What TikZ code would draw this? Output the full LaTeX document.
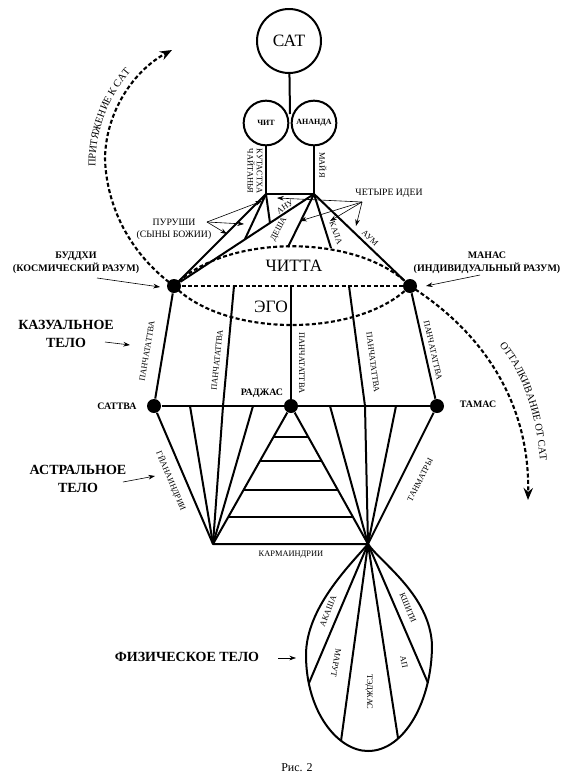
\documentclass[tikz,border=0pt]{standalone}
\usepackage{fontspec}
\setmainfont{Liberation Serif}
\usetikzlibrary{arrows.meta,calc,decorations.text}

\tikzset{every picture/.style={line width=0.75pt}}
\tikzset{
  bodyline/.style={line width=1.5pt, line join=round},
  dashcurve/.style={line width=1.6pt, dash pattern={on 3pt off 1.8pt}},
  blackdot/.style={circle, fill=black, inner sep=0pt, minimum size=10.5pt},
  bigring/.style={circle, draw, line width=1.5pt, minimum size=48pt, inner sep=0pt, font=\fontsize{13}{14}\selectfont},
  smallring/.style={circle, draw, line width=1.5pt, minimum size=33.5pt, inner sep=0pt, font=\bfseries\fontsize{6}{7}\selectfont},
  pointer/.style={line width=0.45pt, -{Stealth[length=5pt,width=3.5pt]}},
  tag/.style={font=\fontsize{6.3}{7}\selectfont, inner sep=0.5pt},
  bigtag/.style={font=\fontsize{13}{14}\selectfont, inner sep=0pt},
  gunatag/.style={font=\bfseries\fontsize{7.4}{8}\selectfont, inner sep=0pt},
  mindtag/.style={font=\bfseries\fontsize{7.5}{9.5}\selectfont, align=center, inner sep=0pt},
  bodytag/.style={font=\bfseries\fontsize{10.5}{13.5}\selectfont, align=center, inner sep=0pt},
  notetag/.style={font=\fontsize{7.3}{9}\selectfont, align=center, inner sep=0pt},
}

\begin{document}
\begin{tikzpicture}[x=0.75pt,y=0.75pt,yscale=-1,xscale=1]
	\useasboundingbox (0,0) rectangle (578,783);

	%Circles: Sat, Chit, Ananda
	\node[bigring] (sat) at (289,41) {САТ};
	\node[smallring] (chit) at (266,123) {ЧИТ};
	\node[smallring] (ananda) at (314,123) {АНАНДА};
	\coordinate (meet) at (290,114);
	\coordinate (tl) at (266,194);
	\coordinate (tr) at (314,194);
	\draw[bodyline] (sat) -- (meet);
	\draw[bodyline] (chit) -- (tl) -- (tr) -- (ananda);

	%Dots: Buddhi, Manas, gunas
	\node[blackdot] (buddhi) at (174,286) {};
	\node[blackdot] (manas) at (410,286) {};
	\node[blackdot] (sattva) at (154,406) {};
	\node[blackdot] (rajas) at (291,406) {};
	\node[blackdot] (tamas) at (437,406) {};

	%Straight Lines: purushas and four ideas
	\coordinate (q1) at (245,239);
	\coordinate (q2) at (270,223);
	\coordinate (desha) at (288,247);
	\coordinate (kala) at (331,248);
	\draw[bodyline] (buddhi) -- (tl) -- (q1);
	\draw[bodyline] (tl) -- (q2);
	\draw[bodyline] (buddhi) -- (tr) -- (manas);
	\draw[bodyline] (tr) -- (desha);
	\draw[bodyline] (tr) -- (kala);

	%Dashed: chitta, ego
	\draw[dashcurve] (buddhi) -- (manas);
	\draw[dashcurve] (buddhi.center) .. controls (225,233) and (359,233) .. (manas.center);
	\draw[dashcurve] (buddhi.center) .. controls (225,338) and (359,338) .. (manas.center);

	%Straight Lines: causal body
	\coordinate (c1t) at (234,286);
	\coordinate (c1b) at (223,406);
	\coordinate (c3t) at (291,286);
	\coordinate (c4t) at (349,286);
	\coordinate (c4b) at (365,406);
	\draw[bodyline] (buddhi) -- (sattva);
	\draw[bodyline] (c1t) -- (c1b);
	\draw[bodyline] (c3t) -- (rajas);
	\draw[bodyline] (c4t) -- (c4b);
	\draw[bodyline] (manas) -- (tamas);
	\draw[bodyline] (sattva) -- (tamas);

	%Straight Lines: astral body
	\coordinate (lft) at (213,544);
	\coordinate (rgt) at (368,544);
	\coordinate (a1) at (190,406);
	\coordinate (a2) at (253,406);
	\coordinate (b1) at (330,406);
	\coordinate (b2) at (396,406);
	\draw[bodyline] (sattva) -- (lft) -- (rgt) -- (tamas);
	\foreach \t in {a1,c1b,a2,rajas} \draw[bodyline] (lft) -- (\t);
	\foreach \t in {b1,c4b,b2,rajas} \draw[bodyline] (rgt) -- (\t);
	\foreach \f in {0.225,0.399,0.609,0.804}
		\draw[bodyline] ($(rajas)!\f!(lft)$) -- ($(rajas)!\f!(rgt)$);

	%Shape: physical body
	\draw[bodyline] (rgt) .. controls (350,565) and (306,608) .. (306,655) .. controls (306,712) and (338,751) .. (368,751) .. controls (405,751) and (432,700) .. (432,645) .. controls (430,595) and (380,562) .. (rgt);
	\coordinate (e1) at (309,683);
	\coordinate (e2) at (341,741);
	\coordinate (e3) at (398,738);
	\coordinate (e4) at (428,683);
	\foreach \t in {e1,e2,e3,e4} \draw[bodyline] (rgt) -- (\t);

	%Dashed arrows: attraction and repulsion
	\coordinate (pull) at (172,50);
	\coordinate (push) at (528,500);
	\draw[dashcurve, -{Stealth[length=9pt,width=7pt]}] (buddhi.center) .. controls (125,250) and (106,200) .. (105,158) .. controls (106,110) and (135,70) .. (pull);
	\draw[dashcurve, -{Stealth[length=9pt,width=7pt]}] (manas.center) .. controls (480,330) and (530,400) .. (push);
	\path[decorate, decoration={text along path, text align=center, text={|\fontsize{7.8}{9}\selectfont|ПРИТЯЖЕНИЕ К САТ}}] (96,180) .. controls (92,140) and (105,95) .. (140,62);
	\path[decorate, decoration={text along path, text align=center, text={|\fontsize{7.8}{9}\selectfont|ОТТАЛКИВАНИЕ ОТ САТ}}] (490,335) .. controls (520,365) and (538,410) .. (541,475);

	% Text Node
	\node[tag, rotate=-90, align=center] (kutastha) at (255,171) {КУТАСТХА\\ЧАЙТАНЬЯ};
	\node[tag, rotate=-90] (maya) at (323,165) {МАЙЯ};
	\node[tag, rotate=33] (anu) at (285,207) {АНУ};
	\node[tag, rotate=62] (deshatxt) at (279,229) {ДЕША};
	\node[tag, rotate=-70] (kalatxt) at (336,233) {КАЛА};
	\node[tag, rotate=-43] (aum) at (370,238) {АУМ};
	\node[bigtag] (chitta) at (294,266) {ЧИТТА};
	\node[bigtag] (ego) at (271,307) {ЭГО};

	% Text Node: pointers to the lines
	\node[notetag] (purusha) at (174,229) {ПУРУШИ\\(СЫНЫ БОЖИИ)};
	\node[notetag] (ideas) at (389,193) {ЧЕТЫРЕ ИДЕИ};
	\coordinate (ptail) at (207,222);
	\coordinate (itail) at (362,202);
	\foreach \p in {(262,201),(244,224),(227,234)} \draw[pointer] (ptail) -- \p;
	\foreach \p in {(277,198),(300,221),(330,221),(356,226)} \draw[pointer] (itail) -- \p;

	% Text Node: minds and bodies
	\node[mindtag] (budlbl) at (76,263) {БУДДХИ\\(КОСМИЧЕСКИЙ РАЗУМ)};
	\node[mindtag] (manlbl) at (487,263) {МАНАС\\(ИНДИВИДУАЛЬНЫЙ РАЗУМ)};
	\node[bodytag] (kazlbl) at (66,334) {КАЗУАЛЬНОЕ\\ТЕЛО};
	\node[bodytag] (astlbl) at (78,479) {АСТРАЛЬНОЕ\\ТЕЛО};
	\node[bodytag] (fizlbl) at (187,657) {ФИЗИЧЕСКОЕ ТЕЛО};
	\draw[pointer] (97,278) -- (160,287);
	\draw[pointer] (480,275) -- (426,286);
	\draw[pointer] (105,342) -- (130,345);
	\draw[pointer] (123,482) -- (155,476);
	\draw[pointer] (278,658) -- (296,658);

	% Text Node: gunas
	\node[gunatag] (sattvalbl) at (117,406) {САТТВА};
	\node[gunatag] (rajaslbl) at (262,393) {РАДЖАС};
	\node[gunatag] (tamaslbl) at (478,404) {ТАМАС};

	% Text Node: panchatattva
	\node[tag, rotate=80.5] at (147,351) {ПАНЧАТАТТВА};
	\node[tag, rotate=84] at (217,360) {ПАНЧАТАТТВА};
	\node[tag, rotate=-90] at (302,363) {ПАНЧАТАТТВА};
	\node[tag, rotate=-82.4] at (373,362) {ПАНЧАТАТТВА};
	\node[tag, rotate=-77.3] at (433,350) {ПАНЧАТАТТВА};

	% Text Node: indriyas and tanmatras
	\node[tag] (karma) at (291,555) {КАРМАИНДРИИ};
	\node[tag, rotate=-67] (gyana) at (171,481) {ГЙАНАИНДРИИ};
	\node[tag, rotate=63] (tanmatra) at (420,480) {ТАНМАТРЫ};

	% Text Node: elements
	\node[tag, rotate=68] (akasha) at (328,611) {АКАША};
	\node[tag, rotate=-100] (marut) at (336,663) {МАРУТ};
	\node[tag, rotate=-90] (tejas) at (369,692) {ТЭДЖАС};
	\node[tag, rotate=-80] (ap) at (404,662) {АП};
	\node[tag, rotate=-67] (kshiti) at (408,608) {КШИТИ};

	% Text Node
	\node[font=\fontsize{9}{10}\selectfont] (ris) at (297,768) {Рис. 2};

\end{tikzpicture}
\end{document}
